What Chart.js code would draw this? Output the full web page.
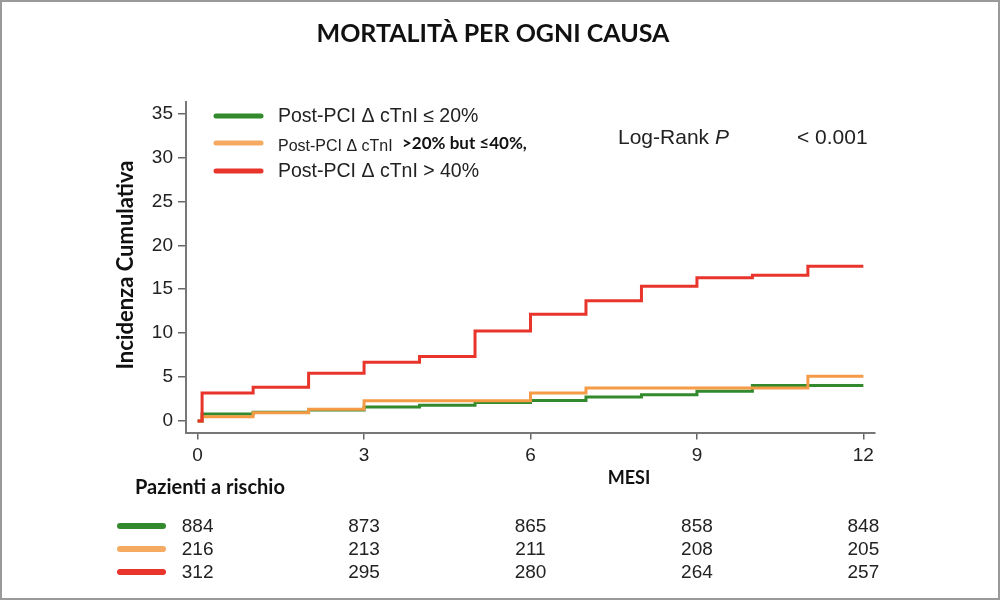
<!DOCTYPE html>
<html lang="it">
<head>
<meta charset="UTF-8">
<title>Mortalità per ogni causa</title>
<script src="https://cdn.jsdelivr.net/npm/chart.js"></script>
<style>
    body { margin: 0; background: #fff; }
    .wrap { position: relative; width: 1000px; height: 600px; }
</style>
</head>
<body>
<div class="wrap"><canvas id="kmChart"></canvas></div>
<script>
    // mesi in cui la curva cambia valore (step)
    const months = [0, 0.08, 1, 2, 3, 4, 5, 6, 7, 8, 9, 10, 11, 12];
    const greenVals  = [0, 0.8, 1.0, 1.25, 1.6, 1.8, 2.1, 2.35, 2.75, 3.0, 3.4, 4.05, 4.05, 4.05];
    const orangeVals = [0, 0.5, 0.95, 1.35, 2.3, 2.3, 2.3, 3.2, 3.75, 3.75, 3.75, 3.75, 5.1, 5.1];
    const redVals    = [0, 3.2, 3.85, 5.45, 6.7, 7.35, 10.25, 12.15, 13.7, 15.35, 16.3, 16.6, 17.6, 17.6];

    const xTicks = [0, 3, 6, 9, 12];
    const yTicks = [0, 5, 10, 15, 20, 25, 30, 35];

    // pazienti a rischio
    const riskGreen  = [884, 873, 865, 858, 848];
    const riskOrange = [216, 213, 211, 208, 205];
    const riskRed    = [312, 295, 280, 264, 257];

    const GREEN = '#328a2c';
    const ORANGE = '#f59a45';
    const ORANGE_LEG = '#f5aa62';
    const RED = '#e8342b';
    const ARIAL = '"Liberation Sans", Arial, sans-serif';
    const CALIBRI = 'Lato, "Open Sans", sans-serif';

    function toPoints(vals) {
        return months.map((m, i) => ({ x: m, y: vals[i] }));
    }

    function legendLine(ctx, x1, x2, y, color, w) {
        ctx.save();
        ctx.strokeStyle = color;
        ctx.lineWidth = w;
        ctx.lineCap = 'round';
        ctx.beginPath();
        ctx.moveTo(x1, y);
        ctx.lineTo(x2, y);
        ctx.stroke();
        ctx.restore();
    }

    const extras = {
        id: 'extras',
        beforeDraw(chart) {
            const ctx = chart.ctx;
            ctx.save();
            ctx.fillStyle = '#fff';
            ctx.fillRect(0, 0, chart.width, chart.height);
            ctx.restore();
        },
        afterDraw(chart) {
            const ctx = chart.ctx;
            const xs = chart.scales.x;
            ctx.save();

            // cornice
            ctx.strokeStyle = '#9a9a9a';
            ctx.lineWidth = 2;
            ctx.strokeRect(1, 1, chart.width - 2, chart.height - 2);

            ctx.fillStyle = '#111';
            ctx.textBaseline = 'middle';

            // titolo
            ctx.textAlign = 'center';
            ctx.font = 'bold 25px ' + CALIBRI;
            ctx.fillText('MORTALITÀ PER OGNI CAUSA', 493, 34);

            // titoli assi
            ctx.font = 'bold 18px ' + CALIBRI;
            ctx.fillText('MESI', 629, 478);
            ctx.save();
            ctx.translate(126, 265);
            ctx.rotate(-Math.PI / 2);
            ctx.font = 'bold 22px ' + CALIBRI;
            ctx.fillText('Incidenza Cumulativa', 0, 0);
            ctx.restore();

            ctx.textAlign = 'left';
            ctx.font = 'bold 20px ' + CALIBRI;
            ctx.fillText('Pazienti a rischio', 135, 488);

            // legenda
            legendLine(ctx, 216, 261, 116, GREEN, 5);
            legendLine(ctx, 216, 261, 143, ORANGE_LEG, 5);
            legendLine(ctx, 216, 261, 171, RED, 5);
            ctx.fillStyle = '#222';
            ctx.font = '19.5px ' + ARIAL;
            ctx.fillText('Post-PCI Δ cTnI ≤ 20%', 278, 117);
            ctx.fillText('Post-PCI Δ cTnI > 40%', 278, 172);
            ctx.font = '16px ' + ARIAL;
            ctx.fillText('Post-PCI Δ cTnI', 278, 147);
            ctx.fillStyle = '#111';
            ctx.font = 'bold 17px ' + CALIBRI;
            ctx.fillText('>20% but ≤40%,', 402, 144);

            // log-rank
            ctx.fillStyle = '#222';
            ctx.font = '21px ' + ARIAL;
            ctx.fillText('Log-Rank ', 618, 138);
            const w = ctx.measureText('Log-Rank ').width;
            ctx.font = 'italic 21px ' + ARIAL;
            ctx.fillText('P', 618 + w, 138);
            ctx.font = '21px ' + ARIAL;
            ctx.fillText('< 0.001', 797, 138);

            // tabella pazienti a rischio
            const rows = [[riskGreen, GREEN, 526], [riskOrange, ORANGE_LEG, 549], [riskRed, RED, 572]];
            ctx.textAlign = 'center';
            ctx.font = '19px ' + ARIAL;
            rows.forEach(([vals, color, y]) => {
                legendLine(ctx, 120, 163, y, color, 6);
                ctx.fillStyle = '#222';
                vals.forEach((v, i) => {
                    ctx.fillText(String(v), xs.getPixelForValue(xTicks[i]), y + 1);
                });
            });

            ctx.restore();
        }
    };

    new Chart(document.getElementById('kmChart'), {
        type: 'line',
        data: {
            datasets: [
                { label: 'Post-PCI Δ cTnI > 40%', data: toPoints(redVals), borderColor: RED, order: 0 },
                { label: 'Post-PCI Δ cTnI >20% but ≤40%', data: toPoints(orangeVals), borderColor: ORANGE, order: 1 },
                { label: 'Post-PCI Δ cTnI ≤ 20%', data: toPoints(greenVals), borderColor: GREEN, order: 2 }
            ]
        },
        options: {
            responsive: true,
            maintainAspectRatio: false,
            animation: false,
            layout: { padding: { left: 0, right: 125, top: 102, bottom: 0 } },
            elements: {
                line: { stepped: 'before', borderWidth: 3, fill: false },
                point: { radius: 0 }
            },
            plugins: {
                legend: { display: false },
                tooltip: { enabled: false }
            },
            scales: {
                x: {
                    type: 'linear',
                    min: -0.21,
                    max: 12.21,
                    afterBuildTicks: s => { s.ticks = xTicks.map(v => ({ value: v })); },
                    afterFit: s => { s.height = 167.5; },
                    grid: { drawOnChartArea: false, drawTicks: true, tickLength: 7, color: '#666', lineWidth: 1.5 },
                    border: { display: true, color: '#777', width: 2 },
                    ticks: { color: '#222', font: { family: ARIAL, size: 19 }, padding: 5, maxRotation: 0 }
                },
                y: {
                    type: 'linear',
                    min: -1.3,
                    max: 36.3,
                    afterBuildTicks: s => { s.ticks = yTicks.map(v => ({ value: v })); },
                    afterFit: s => { s.width = 186; },
                    grid: { drawOnChartArea: false, drawTicks: true, tickLength: 8, color: '#666', lineWidth: 1.5 },
                    border: { display: true, color: '#777', width: 2 },
                    ticks: { color: '#222', font: { family: ARIAL, size: 19 }, padding: 5 }
                }
            }
        },
        plugins: [extras]
    });
</script>
</body>
</html>
